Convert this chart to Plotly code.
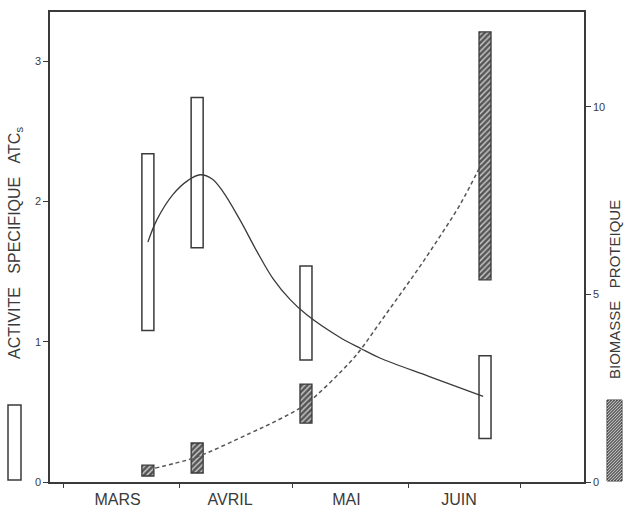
import plotly.graph_objects as go

# ---- data ----
months = ["MARS", "AVRIL", "MAI", "JUIN"]
month_label_dates = ["1983-03-15 12:00", "1983-04-14 12:00", "1983-05-15 12:00", "1983-06-14 12:00"]
month_bounds = ["1983-03-01", "1983-04-01", "1983-05-01", "1983-06-01", "1983-07-01"]

sample_dates = ["1983-03-23 14:00", "1983-04-05 17:00", "1983-05-04 17:00", "1983-06-21 10:00"]
atc_low = [1.08, 1.67, 0.87, 0.31]
atc_high = [2.34, 2.74, 1.54, 0.90]
bio_low = [0.16, 0.24, 1.57, 5.39]
bio_high = [0.45, 1.04, 2.61, 12.0]

atc_curve_dates = ["1983-03-23 14:00", "1983-03-26 00:00", "1983-03-30 07:00", "1983-04-03 07:00",
                   "1983-04-06 12:00", "1983-04-09 17:00", "1983-04-12 14:00", "1983-04-17 02:00",
                   "1983-04-21 17:00", "1983-04-25 22:00", "1983-04-30 12:00", "1983-05-05 00:00",
                   "1983-05-13 19:00", "1983-05-19 10:00", "1983-05-24 10:00", "1983-06-06 19:00",
                   "1983-06-20 22:00"]
atc_curve = [1.71, 1.87, 2.05, 2.15, 2.19, 2.16, 2.07, 1.87, 1.64, 1.45, 1.30, 1.19,
             1.03, 0.95, 0.884, 0.75, 0.61]

bio_curve_dates = ["1983-03-25 12:00", "1983-03-30 19:00", "1983-04-05 17:00", "1983-04-19 19:00",
                   "1983-04-27 19:00", "1983-05-04 17:00", "1983-05-16 12:00", "1983-05-19 10:00",
                   "1983-05-24 10:00", "1983-05-29 19:00", "1983-06-04 02:00", "1983-06-09 10:00",
                   "1983-06-14 19:00", "1983-06-20 07:00"]
bio_curve = [0.37, 0.50, 0.67, 1.30, 1.68, 2.08, 3.20, 3.55, 4.25, 5.0, 5.75, 6.55, 7.4, 8.45]

left_ticks = [0, 1, 2, 3]
right_ticks = [0, 5, 10]

# ---- styling ----
INK = "#3a3a3a"
FONT = "Liberation Sans, Arial, sans-serif"
BAR_W = 3.2 * 86400000  # ms

fig = go.Figure()

fig.add_trace(go.Bar(
    x=sample_dates, y=[h - l for h, l in zip(atc_high, atc_low)], base=atc_low,
    width=BAR_W, yaxis="y", marker=dict(color="white", line=dict(color=INK, width=1.5)),
    showlegend=False, hoverinfo="skip"))

fig.add_trace(go.Scatter(
    x=atc_curve_dates, y=atc_curve, mode="lines", yaxis="y",
    line=dict(color=INK, width=1.3, shape="spline", smoothing=1.0),
    showlegend=False, hoverinfo="skip"))

fig.add_trace(go.Bar(
    x=sample_dates, y=[h - l for h, l in zip(bio_high, bio_low)], base=bio_low,
    width=BAR_W, yaxis="y2",
    marker=dict(color="#707070", line=dict(color=INK, width=1.3),
                pattern=dict(shape="/", fgcolor="#cfcfcf", bgcolor="#555555", size=4, solidity=0.35)),
    showlegend=False, hoverinfo="skip"))

fig.add_trace(go.Scatter(
    x=bio_curve_dates, y=bio_curve, mode="lines", yaxis="y2",
    line=dict(color="#555555", width=1.5, dash="4px,3px", shape="spline", smoothing=1.0),
    showlegend=False, hoverinfo="skip"))

# pixel -> paper helpers
L, R, T, B, W, H = 50, 44, 12, 27, 628, 509
PW, PH = W - L - R, H - T - B
def px(x):
    return (x - L) / PW
def py(y):
    return (H - B - y) / PH

shapes = []
# left legend box (open)
shapes.append(dict(type="rect", xref="paper", yref="paper",
                   x0=px(8), x1=px(21), y0=py(480), y1=py(405),
                   line=dict(color=INK, width=1.5), fillcolor="white"))
# right legend box (hatched)
rx0, rx1, ry0, ry1 = 607, 622, 400, 481
shapes.append(dict(type="rect", xref="paper", yref="paper",
                   x0=px(rx0), x1=px(rx1), y0=py(ry1), y1=py(ry0),
                   line=dict(color=INK, width=1), fillcolor="#6a6a6a"))
path = ""
c = rx0 + ry0
while c < rx1 + ry1:
    pts = []
    for xx in (rx0, rx1):
        yy = c - xx
        if ry0 <= yy <= ry1:
            pts.append((xx, yy))
    for yy in (ry0, ry1):
        xx = c - yy
        if rx0 < xx < rx1:
            pts.append((xx, yy))
    if len(pts) >= 2:
        (a, b), (d, e) = pts[0], pts[1]
        path += f"M{px(a)},{py(b)} L{px(d)},{py(e)} "
    c += 3
shapes.append(dict(type="path", xref="paper", yref="paper", path=path,
                   line=dict(color="#d0d0d0", width=0.8)))

annotations = [
    dict(xref="paper", yref="paper", x=px(15), y=py(243), textangle=-90, showarrow=False,
         xanchor="center", yanchor="middle",
         text="ACTIVITE\u00a0\u00a0\u00a0SPECIFIQUE\u00a0\u00a0\u00a0ATC<sub>s</sub>",
         font=dict(family=FONT, size=16, color=INK)),
    dict(xref="paper", yref="paper", x=px(614), y=py(290), textangle=-90, showarrow=False,
         xanchor="center", yanchor="middle",
         text="BIOMASSE\u00a0\u00a0\u00a0PROTEIQUE",
         font=dict(family=FONT, size=15, color=INK)),
]

fig.update_layout(
    template="none",
    width=W, height=H,
    margin=dict(l=L, r=R, t=T, b=B),
    paper_bgcolor="white", plot_bgcolor="white",
    barmode="overlay",
    font=dict(family=FONT, color=INK),
    shapes=shapes, annotations=annotations,
    xaxis=dict(type="date", range=["1983-02-25 12:00", "1983-07-17 19:00"],
               showline=True, linecolor=INK, linewidth=1.5, mirror=True,
               showgrid=False, zeroline=False, automargin=False,
               tickmode="array", tickvals=month_label_dates, ticktext=months, ticks="",
               ticklabelstandoff=2,
               tickfont=dict(family=FONT, size=16, color=INK),
               minor=dict(tickmode="array", tickvals=month_bounds, ticks="outside",
                          ticklen=4, tickcolor=INK, tickwidth=1.2, showgrid=False)),
    yaxis=dict(range=[0, 3.35], tickmode="array", tickvals=left_ticks,
               showline=True, linecolor=INK, linewidth=1.5, showgrid=False, zeroline=False,
               ticks="outside", ticklen=5, tickcolor=INK, automargin=False,
               tickfont=dict(family=FONT, size=11, color=INK)),
    yaxis2=dict(range=[0, 12.53], overlaying="y", side="right", anchor="x",
                tickmode="array", tickvals=right_ticks,
                showline=True, linecolor=INK, linewidth=1.5, showgrid=False, zeroline=False,
                ticks="outside", ticklen=5, tickcolor=INK, automargin=False,
                tickfont=dict(family=FONT, size=11, color=INK)),
)

fig.write_html("out.html", config={"displayModeBar": False},
               post_script="document.body.style.margin='0';document.body.style.overflow='hidden';")
